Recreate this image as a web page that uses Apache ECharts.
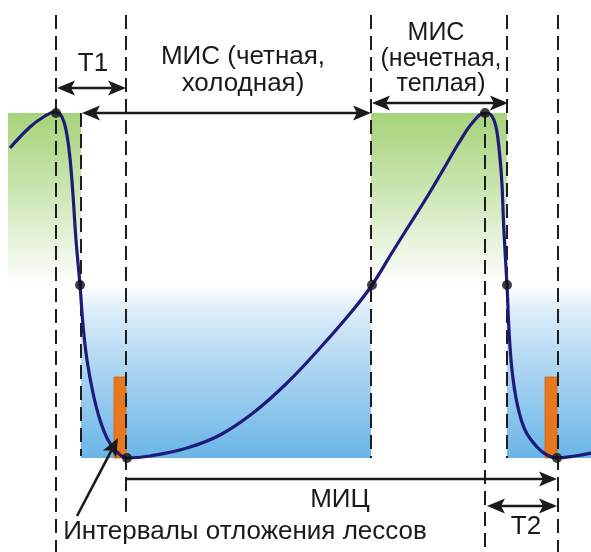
<!DOCTYPE html>
<html>
<head>
<meta charset="utf-8">
<script src="https://cdn.jsdelivr.net/npm/echarts@6/dist/echarts.min.js"></script>
<style>
html,body{margin:0;padding:0;background:#fff;}
#chart{width:591px;height:552px;}
</style>
</head>
<body>
<div id="chart"></div>
<script>
// ---- data (schematic units: x = time, y = climate scale, downward) ----
const curveX = [10,30,45,55,60,64,67,70,73,76,80,83,87,93,100,108,117,127,150,187,220,253,287,320,353,372,393,410,427,443,460,473,485,490,494,497,500,502,504,507,509,512,517,525,537,547,557,575,591];
const curveY = [148,127,116,112,114,122,135,158,195,240,285,325,360,393,420,440,452,458,456,448,435,413,383,348,310,285,251,224,197,170,141,122,113,114,120,132,158,185,233,285,330,370,403,430,447,455,458,456,453];

const markX = [56,80,127,372,485,507,557];
const markY = [113,285,458,285,113,285,458];

// climate zones: [x0, x1, y0, y1], kind: 0 = warm (green), 1 = cold (blue)
const zoneX0 = [8, 81, 371, 507];
const zoneX1 = [81, 371, 507, 591];
const zoneY0 = [113, 285, 113, 285];
const zoneY1 = [285, 458, 285, 458];
const zoneKind = [0, 1, 0, 1];

// loess deposition intervals
const loessX0 = [114, 545];
const loessX1 = [126, 557];
const loessY0 = [377, 377];
const loessY1 = [458, 458];

// vertical dashed guides
const guideX  = [56, 126, 81, 371, 485, 507, 558];
const guideY0 = [15, 15, 113, 15, 113, 15, 15];
const guideY1 = [552, 514, 456, 458, 552, 458, 552];

// arrows: from (x1,y1) to (x2,y2), heads at start / end
const arrowX1 = [57, 82, 372, 127, 487, 77];
const arrowY1 = [88, 113, 103, 479, 506, 516];
const arrowX2 = [126, 371, 508, 557, 557, 118];
const arrowY2 = [88, 113, 103, 479, 506, 438];
const arrowHeadStart = [1, 1, 1, 0, 1, 0];
const arrowHeadEnd   = [1, 1, 1, 1, 1, 1];

// labels
const labelText = ['T1', 'МИС (четная,', 'холодная)', 'МИС', '(нечетная,', 'теплая)', 'МИЦ', 'T2', 'Интервалы отложения лессов'];
const labelX = [93, 243, 243, 436, 441, 441, 340, 526, 245];
const labelY = [64, 57, 84, 33, 59, 84, 500, 527, 532];

// ---- chart ----
const chart = echarts.init(document.getElementById('chart'), null, {renderer: 'canvas'});
const FONT = '26px "Liberation Sans", Arial, sans-serif';
const FONT_SMALL = '25px "Liberation Sans", Arial, sans-serif';
const INK = '#1a1a1a';

function idx(arr){ return arr.map((_, i) => i); }

const option = {
  animation: false,
  backgroundColor: '#ffffff',
  grid: {left: 0, right: 0, top: 0, bottom: 0},
  xAxis: {type: 'value', min: 0, max: 591, show: false},
  yAxis: {type: 'value', min: 0, max: 552, inverse: true, show: false},
  series: [
    {
      type: 'custom', z: 1, silent: true,
      data: idx(zoneX0).map(i => [zoneX0[i], zoneY0[i], zoneX1[i], zoneY1[i], zoneKind[i]]),
      renderItem: function (params, api) {
        const a = api.coord([api.value(0), api.value(1)]);
        const b = api.coord([api.value(2), api.value(3)]);
        const warm = api.value(4) === 0;
        const fill = warm
          ? new echarts.graphic.LinearGradient(0, 0, 0, 1, [
              {offset: 0, color: '#a5d379'}, {offset: 0.5, color: '#d0e8b9'}, {offset: 1, color: '#ffffff'}])
          : new echarts.graphic.LinearGradient(0, 0, 0, 1, [
              {offset: 0, color: '#ffffff'}, {offset: 0.15, color: '#dcedf9'}, {offset: 0.5, color: '#aad4f1'}, {offset: 1, color: '#6ab5e6'}]);
        return {type: 'rect', shape: {x: a[0], y: a[1], width: b[0] - a[0], height: b[1] - a[1]}, style: {fill: fill}};
      }
    },
    {
      type: 'custom', z: 2, silent: true,
      data: idx(loessX0).map(i => [loessX0[i], loessY0[i], loessX1[i], loessY1[i]]),
      renderItem: function (params, api) {
        const a = api.coord([api.value(0), api.value(1)]);
        const b = api.coord([api.value(2), api.value(3)]);
        return {type: 'rect', shape: {x: a[0], y: a[1], width: b[0] - a[0], height: b[1] - a[1]},
          style: {fill: '#e8781d', stroke: '#c9651a', lineWidth: 0.8}};
      }
    },
    {
      type: 'custom', z: 3, silent: true,
      data: idx(guideX).map(i => [guideX[i], guideY0[i], guideY1[i]]),
      renderItem: function (params, api) {
        const a = api.coord([api.value(0), api.value(1)]);
        const b = api.coord([api.value(0), api.value(2)]);
        return {type: 'line', shape: {x1: a[0], y1: a[1], x2: b[0], y2: b[1]},
          style: {stroke: '#1e1e1e', lineWidth: 2, lineDash: [14, 7]}};
      }
    },
    {
      type: 'line', z: 4, silent: true,
      data: idx(curveX).map(i => [curveX[i], curveY[i]]),
      smooth: 0.4,
      showSymbol: false,
      lineStyle: {color: '#1d1a7a', width: 3.2}
    },
    {
      type: 'scatter', z: 5, silent: true,
      data: idx(markX).map(i => [markX[i], markY[i]]),
      symbol: 'circle', symbolSize: 10,
      itemStyle: {color: '#111111'}
    },
    {
      type: 'custom', z: 6, silent: true,
      data: idx(arrowX1).map(i => [arrowX1[i], arrowY1[i], arrowX2[i], arrowY2[i], arrowHeadStart[i], arrowHeadEnd[i]]),
      renderItem: function (params, api) {
        const p1 = api.coord([api.value(0), api.value(1)]);
        const p2 = api.coord([api.value(2), api.value(3)]);
        const hs = api.value(4), he = api.value(5);
        const dx = p2[0] - p1[0], dy = p2[1] - p1[1];
        const len = Math.hypot(dx, dy);
        const ux = dx / len, uy = dy / len, nx = -uy, ny = ux;
        const L = 18, W = 7.5, N = 4;
        const a = hs ? [p1[0] + ux * (L - N), p1[1] + uy * (L - N)] : p1;
        const b = he ? [p2[0] - ux * (L - N), p2[1] - uy * (L - N)] : p2;
        const children = [{type: 'line', shape: {x1: a[0], y1: a[1], x2: b[0], y2: b[1]},
          style: {stroke: INK, lineWidth: 2.6}}];
        function head(tip, bx, by) {
          const cx = tip[0] + bx * L, cy = tip[1] + by * L;
          return {type: 'polygon', shape: {points: [tip, [cx + nx * W, cy + ny * W],
            [tip[0] + bx * (L - N), tip[1] + by * (L - N)], [cx - nx * W, cy - ny * W]]},
            style: {fill: INK}};
        }
        if (hs) children.push(head(p1, ux, uy));
        if (he) children.push(head(p2, -ux, -uy));
        return {type: 'group', children: children};
      }
    },
    {
      type: 'custom', z: 7, silent: true,
      data: idx(labelText).map(i => [labelX[i], labelY[i]]),
      renderItem: function (params, api) {
        const p = api.coord([api.value(0), api.value(1)]);
        const i = params.dataIndex;
        const small = (i >= 3 && i <= 5);
        return {type: 'text', x: p[0], y: p[1],
          style: {text: labelText[i], font: small ? FONT_SMALL : FONT, fill: INK, align: 'center', verticalAlign: 'middle'}};
      }
    }
  ]
};
chart.setOption(option);
</script>
</body>
</html>
